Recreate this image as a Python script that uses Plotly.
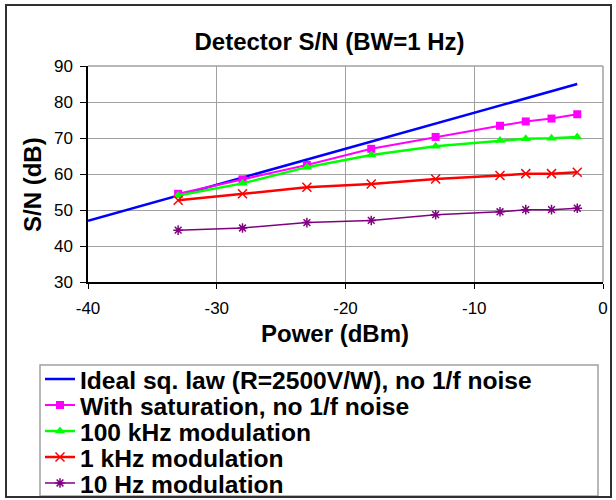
import plotly.graph_objects as go

power_ideal = [-40, -2]
sn_ideal = [47.0, 85.0]

power = [-33, -28, -23, -18, -13, -8, -6, -4, -2]
sn_saturation = [54.5, 58.5, 62.5, 67.0, 70.3, 73.4, 74.6, 75.4, 76.6]
sn_100khz = [54.0, 57.4, 61.9, 65.3, 67.7, 69.3, 69.8, 69.9, 70.3]
sn_1khz = [52.7, 54.5, 56.3, 57.2, 58.6, 59.6, 60.1, 60.1, 60.5]
sn_10hz = [44.4, 45.0, 46.5, 47.1, 48.7, 49.5, 50.1, 50.1, 50.5]

x_tickvals = [-40, -30, -20, -10, 0]
x_ticktext = ["-40", "-30", "-20", "-10", "0"]
y_tickvals = [30, 40, 50, 60, 70, 80, 90]

names = [
    "Ideal sq. law (R=2500V/W), no 1/f noise",
    "With saturation, no 1/f noise",
    "100 kHz modulation",
    "1 kHz modulation",
    "10 Hz modulation",
]

FONT = "Arial, Liberation Sans, sans-serif"

fig = go.Figure()
fig.add_trace(go.Scatter(x=power_ideal, y=sn_ideal, mode="lines", name=names[0],
                         legend="legend",
                         line=dict(color="#0000ff", width=2.5)))
fig.add_trace(go.Scatter(x=power, y=sn_saturation, mode="lines+markers", name=names[1],
                         legend="legend2",
                         line=dict(color="#ff00ff", width=2),
                         marker=dict(symbol="square", size=8, color="#ff00ff")))
fig.add_trace(go.Scatter(x=power, y=sn_100khz, mode="lines+markers", name=names[2],
                         legend="legend3",
                         line=dict(color="#00ff00", width=2.5),
                         marker=dict(symbol="triangle-up", size=9, color="#00ff00")))
fig.add_trace(go.Scatter(x=power, y=sn_1khz, mode="lines+markers", name=names[3],
                         legend="legend4",
                         line=dict(color="#ff0000", width=2.5),
                         marker=dict(symbol="x-thin-open", size=9, color="#ff0000",
                                     line=dict(color="#ff0000", width=1.5))))
fig.add_trace(go.Scatter(x=power, y=sn_10hz, mode="lines+markers", name=names[4],
                         legend="legend5",
                         line=dict(color="#800080", width=1.5),
                         marker=dict(symbol="asterisk-open", size=8, color="#800080",
                                     line=dict(color="#800080", width=1.5))))

# plot area pixel geometry
L, R, T, B = 88, 603, 66, 282
W, H = 616, 500
pw, ph = R - L, B - T

def px(xp):
    return (xp - L) / pw

def py(yp):
    return (B - yp) / ph

legend_rows = [379, 405, 431, 457, 483]
legends = {}
for i, ry in enumerate(legend_rows):
    key = "legend" if i == 0 else f"legend{i + 1}"
    legends[key] = dict(xref="container", yref="container", x=40 / W, y=1 - ry / H,
                        xanchor="left", yanchor="middle", bgcolor="rgba(0,0,0,0)",
                        borderwidth=0, font=dict(size=24.6, family=FONT),
                        itemwidth=30)

fig.update_layout(
    width=W, height=H,
    margin=dict(l=L, r=W - R, t=T, b=H - B, autoexpand=False),
    paper_bgcolor="white", plot_bgcolor="white",
    font=dict(family=FONT, color="black", size=17),
    title=dict(text="<b>Detector S/N (BW=1 Hz)</b>", x=329.5 / W, xanchor="center",
               y=1 - 42 / H, yanchor="middle", font=dict(size=24, family=FONT)),
    xaxis=dict(range=[-40, 0], tickvals=x_tickvals, ticktext=x_ticktext,
               showgrid=True, gridcolor="#a0a0a0", gridwidth=1,
               showline=True, linecolor="black", linewidth=1.5, mirror=False,
               ticks="outside", ticklen=5, tickcolor="black", zeroline=False,
               tickfont=dict(size=17), tickangle=0, automargin=False,
               ticklabelstandoff=5),
    yaxis=dict(range=[30, 90], tickvals=y_tickvals,
               showgrid=True, gridcolor="#a0a0a0", gridwidth=1,
               showline=True, linecolor="black", linewidth=1.5, mirror=False,
               ticks="outside", ticklen=6, tickcolor="black", zeroline=False,
               tickfont=dict(size=17), ticklabelstandoff=4, automargin=False),
    showlegend=True,
    annotations=[
        dict(text="<b>Power (dBm)</b>", xref="paper", yref="paper",
             x=px(334.5), y=py(333), xanchor="center", yanchor="middle",
             showarrow=False, font=dict(size=24, family=FONT)),
        dict(text="<b>S/N (dB)</b>", xref="paper", yref="paper",
             x=px(32), y=py(185), xanchor="center", yanchor="middle",
             textangle=-90, showarrow=False, font=dict(size=24, family=FONT)),
    ],
    shapes=[
        dict(type="line", xref="paper", yref="paper", x0=0, x1=1, y0=1, y1=1,
             line=dict(color="#a0a0a0", width=1.5)),
        dict(type="line", xref="paper", yref="paper", x0=1, x1=1, y0=0, y1=1,
             line=dict(color="#a0a0a0", width=1.5)),
        # legend box
        dict(type="rect", xref="paper", yref="paper", x0=px(40), x1=px(598),
             y0=py(496), y1=py(365), line=dict(color="#a0a0a0", width=1.5),
             layer="below"),
        # outer chart border
        dict(type="rect", xref="paper", yref="paper", x0=px(6), x1=px(611),
             y0=py(497), y1=py(5), line=dict(color="#303030", width=2),
             layer="above"),
    ],
    **legends,
)
for tr in fig.data:
    tr.name = "<b>" + tr.name + "</b>"

fig.write_html("out.html", config={"displayModeBar": False},
               post_script="document.body.style.margin='0';document.body.style.overflow='hidden';")
